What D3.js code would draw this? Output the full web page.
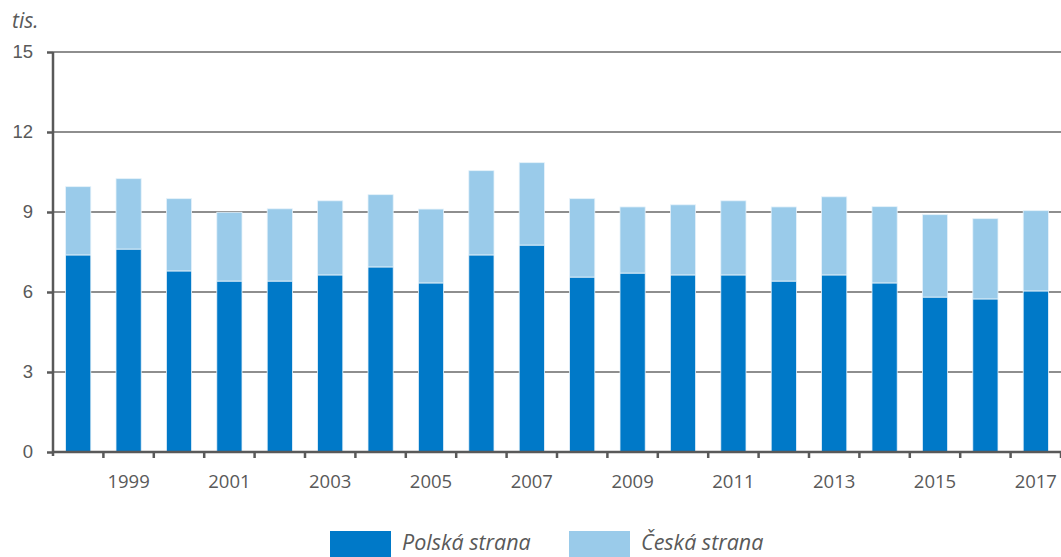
<!DOCTYPE html>
<html>
<head>
<meta charset="utf-8">
<script src="https://cdn.jsdelivr.net/npm/d3@7"></script>
<style>
  body { margin: 0; background: #fff; }
  svg { display: block; font-family: "Open Sans", "Noto Sans", sans-serif; }
</style>
</head>
<body>
<div id="chart"></div>
<script>
// values in thousands (tis.)
var years = [1998, 1999, 2000, 2001, 2002, 2003, 2004, 2005, 2006, 2007,
             2008, 2009, 2010, 2011, 2012, 2013, 2014, 2015, 2016, 2017];
var polska = [7.39, 7.61, 6.79, 6.41, 6.41, 6.64, 6.94, 6.34, 7.39, 7.76,
              6.56, 6.71, 6.64, 6.64, 6.41, 6.64, 6.34, 5.81, 5.74, 6.04];
var ceska = [2.56, 2.64, 2.71, 2.58, 2.71, 2.78, 2.71, 2.77, 3.16, 3.09,
             2.94, 2.48, 2.63, 2.78, 2.78, 2.93, 2.86, 3.09, 3.01, 3.01];
var yTicks = [0, 3, 6, 9, 12, 15];
var seriesNames = ["Polská strana", "Česká strana"];
var seriesColors = ["#0079c8", "#9acbea"];

var width = 1061, height = 557;
var margin = {top: 52, right: 0, bottom: 105, left: 53};
var innerW = width - margin.left - margin.right,
    innerH = height - margin.top - margin.bottom;

var svg = d3.select("#chart")
  .append("svg")
    .attr("width", width)
    .attr("height", height);

var g = svg.append("g")
  .attr("transform", "translate(" + margin.left + "," + margin.top + ")");

var x = d3.scaleBand()
  .domain(years)
  .range([0, innerW])
  .paddingInner(0.5)
  .paddingOuter(0.25);

var y = d3.scaleLinear()
  .domain([0, 15])
  .range([innerH, 0]);

// gridlines
g.selectAll("line.grid")
  .data(yTicks.filter(function(d) { return d > 0; }))
  .enter()
  .append("line")
    .attr("class", "grid")
    .attr("x1", 0)
    .attr("x2", innerW)
    .attr("y1", function(d) { return y(d); })
    .attr("y2", function(d) { return y(d); })
    .attr("stroke", "#8e8e8e")
    .attr("stroke-width", 2);

// stacked bars
var rows = years.map(function(yr, i) {
  return {year: yr, polska: polska[i], ceska: ceska[i]};
});
var stack = d3.stack().keys(["polska", "ceska"])(rows);

g.selectAll("g.layer")
  .data(stack)
  .enter()
  .append("g")
    .attr("class", "layer")
    .attr("fill", function(d, i) { return seriesColors[i]; })
  .selectAll("rect")
  .data(function(d) { return d; })
  .enter()
  .append("rect")
    .attr("x", function(d) { return x(d.data.year); })
    .attr("width", x.bandwidth())
    .attr("y", function(d) { return y(d[1]); })
    .attr("height", function(d) { return y(d[0]) - y(d[1]); })
    .attr("stroke", "#e6f2fa")
    .attr("stroke-width", 0.8);

// y axis
var yAxis = g.append("g")
  .call(d3.axisLeft(y).tickValues(yTicks).tickSize(6).tickPadding(14).tickFormat(d3.format("d")));
yAxis.select(".domain").attr("stroke", "#595959").attr("stroke-width", 2.5)
  .attr("d", "M0," + (innerH + 4) + "V0");
yAxis.selectAll(".tick line").attr("stroke", "#595959").attr("stroke-width", 2.5);
yAxis.selectAll("text")
  .attr("fill", "#595959")
  .style("font-size", "18.5px");

// x axis: ticks at band boundaries, labels on odd years
var xAxisG = g.append("g").attr("transform", "translate(0," + innerH + ")");
xAxisG.append("line")
  .attr("x1", 0).attr("x2", innerW)
  .attr("stroke", "#595959").attr("stroke-width", 2.5);
xAxisG.selectAll("line.tk")
  .data(years)
  .enter()
  .append("line")
    .attr("class", "tk")
    .attr("x1", function(d) { return x(d) - x.step() * 0.25 + x.step(); })
    .attr("x2", function(d) { return x(d) - x.step() * 0.25 + x.step(); })
    .attr("y1", 0)
    .attr("y2", 6)
    .attr("stroke", "#595959")
    .attr("stroke-width", 2.5);
xAxisG.selectAll("text")
  .data(years.filter(function(d) { return d % 2 === 1; }))
  .enter()
  .append("text")
    .attr("x", function(d) { return x(d) + x.bandwidth() / 2; })
    .attr("y", 36)
    .attr("text-anchor", "middle")
    .attr("fill", "#595959")
    .style("font-size", "18.5px")
    .text(function(d) { return d; });

// unit label
svg.append("text")
  .attr("x", 12)
  .attr("y", 28)
  .attr("fill", "#595959")
  .style("font-size", "21px")
  .style("font-style", "italic")
  .text("tis.");

// legend
var legendX = [330, 569];
var legend = svg.selectAll("g.legend")
  .data(seriesNames)
  .enter()
  .append("g")
    .attr("class", "legend")
    .attr("transform", function(d, i) { return "translate(" + legendX[i] + ",531)"; });
legend.append("rect")
  .attr("width", 61)
  .attr("height", 30)
  .attr("fill", function(d, i) { return seriesColors[i]; });
legend.append("text")
  .attr("x", 72)
  .attr("y", 19)
  .attr("fill", "#595959")
  .style("font-size", "21.5px")
  .style("font-style", "italic")
  .text(function(d) { return d; });
</script>
</body>
</html>
